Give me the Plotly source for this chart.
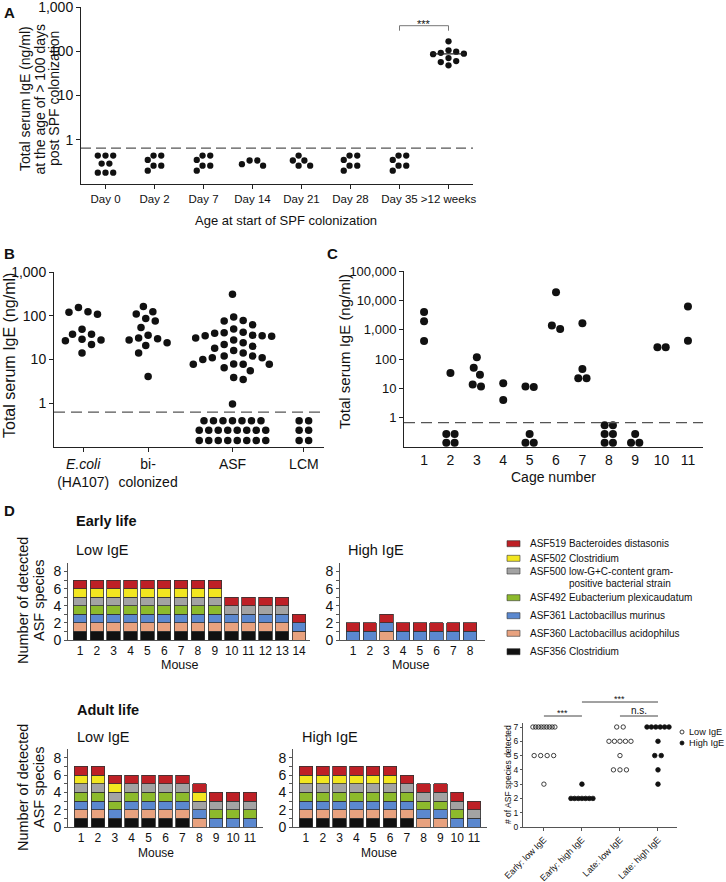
import numpy as np
import plotly.graph_objects as go

W, H = 726, 882

# ------------------------------------------------------------------ data
# Panel A: total serum IgE (ng/ml) by age at start of SPF colonization
a_groups = ["Day 0", "Day 2", "Day 7", "Day 14", "Day 21", "Day 28", "Day 35", "&gt;12 weeks"]
a_day0 = [0.44, 0.44, 0.44, 0.29, 0.29, 0.18, 0.18, 0.18]
a_day2 = [0.44, 0.44, 0.35, 0.26, 0.26, 0.20]
a_day7 = [0.44, 0.44, 0.35, 0.26, 0.26, 0.20]
a_day14 = [0.34, 0.34, 0.28, 0.26]
a_day21 = [0.44, 0.34, 0.34, 0.26, 0.26]
a_day28 = [0.44, 0.44, 0.35, 0.26, 0.26, 0.20]
a_day35 = [0.44, 0.44, 0.35, 0.26, 0.26, 0.20]
a_12wk = [168, 105, 98, 92, 88, 86, 70, 60, 57, 48]
a_lod = 0.65

# Panel B
b_groups = ["<i>E.coli</i><br>(HA107)", "bi-<br>colonized", "ASF", "LCM"]
b_ecoli = [154, 124, 120, 108, 49, 38, 38, 29, 28, 27, 22, 14]
b_bicol = [162, 124, 110, 87, 76, 54, 36, 31, 30, 28, 24, 21, 14, 4.1]
b_asf = [309, 94, 78, 76, 62, 50, 42, 41, 40, 36, 35, 35, 34, 31, 28, 24, 22, 20,
         18, 16, 14, 12, 12, 11, 11, 10, 7.9, 7.8, 7.8, 7.8, 6.5, 5.5, 3.9, 3.5, 0.96,
         0.40, 0.40, 0.40, 0.40, 0.40, 0.40, 0.40,
         0.24, 0.24, 0.24, 0.24, 0.24, 0.24, 0.24, 0.24,
         0.14, 0.14, 0.14, 0.14, 0.14, 0.14, 0.14, 0.14]
b_lcm = [0.40, 0.40, 0.24, 0.24, 0.14, 0.14]
b_lod = 0.63

# Panel C: IgE by cage
c_cages = [1, 2, 3, 4, 5, 6, 7, 8, 9, 10, 11]
c_cage1 = [4000, 1950, 410]
c_cage2 = [33, 0.28, 0.28, 0.14, 0.14]
c_cage3 = [115, 50, 29, 13.5, 11.5]
c_cage4 = [15, 4.0]
c_cage5 = [11.6, 11, 0.28, 0.14, 0.14]
c_cage6 = [19000, 1380, 1050]
c_cage7 = [1670, 46, 22, 22]
c_cage8 = [0.55, 0.55, 0.28, 0.28, 0.14, 0.14]
c_cage9 = [0.28, 0.14, 0.14]
c_cage10 = [250, 250]
c_cage11 = [6200, 420]
c_lod = 0.68

# Panel D: ASF species detected per mouse
asf_ids = ["356", "360", "361", "492", "500", "502", "519"]
asf_labels = ["ASF356 Clostridium", "ASF360 Lactobacillus acidophilus",
              "ASF361 Lactobacillus murinus", "ASF492 Eubacterium plexicaudatum",
              "ASF500 low-G+C-content gram-", "ASF502 Clostridium",
              "ASF519 Bacteroides distasonis"]
early_low = ["356 360 361 492 500 502 519", "356 360 361 492 500 502 519",
             "356 360 361 492 500 502 519", "356 360 361 492 500 502 519",
             "356 360 361 492 500 502 519", "356 360 361 492 500 502 519",
             "356 360 361 492 500 502 519", "356 360 361 492 500 502 519",
             "356 360 361 492 500 502 519", "356 360 361 500 519",
             "356 360 361 500 519", "356 360 361 500 519", "356 360 361 500 519",
             "360 361 519"]
early_high = ["361 519", "361 519", "360 361 519", "361 519", "361 519",
              "361 519", "361 519", "361 519"]
adult_low = ["356 360 361 492 500 502 519", "356 360 361 492 500 502 519",
             "356 361 492 500 502 519", "356 360 361 492 500 519",
             "356 360 361 492 500 519", "356 360 361 492 500 519",
             "356 360 361 492 500 519", "360 361 500 502 519",
             "361 492 500 519", "361 492 500 519", "361 492 500 519"]
adult_high = ["356 360 361 492 500 502 519", "356 360 361 492 500 502 519",
              "356 360 361 492 500 502 519", "356 360 361 492 500 502 519",
              "356 360 361 492 500 502 519", "356 360 361 492 500 502 519",
              "356 360 361 492 500 519", "360 361 492 500 519",
              "360 361 492 500 519", "361 492 500 519", "361 500 519"]
dot_groups = ["Early: low IgE", "Early: high IgE", "Late: low IgE", "Late: high IgE"]

# ------------------------------------------------------------------ style
SANS = "Liberation Sans, Arial, Helvetica, sans-serif"
NARROW = "Liberation Sans Narrow, Arial Narrow, Liberation Sans, sans-serif"
INK = "#111111"
asf_colors = {"356": "#111111", "360": "#E8A27F", "361": "#5B88CF", "492": "#8DBA2C",
              "500": "#A3A3A3", "502": "#F2E620", "519": "#BE2026"}


def xdom(a, b):
    return [a / W, b / W]


def ydom(top, bottom):
    return [1 - bottom / H, 1 - top / H]


def swarm(values, upx, sx, sy, log=True):
    """Beeswarm offsets in pixels; upx = pixels per y unit (decade)."""
    vals = np.asarray(values, float)
    ys = (np.log10(vals) if log else vals) * upx
    order = np.argsort(-vals, kind="stable")
    step = sx / 4.0
    cands = [0.0]
    for k in range(1, 120):
        cands += [k * step, -k * step]
    xs = np.zeros(len(vals))
    placed = []
    for i in order:
        y = ys[i]
        for t in cands:
            ok = True
            for (qx, qy) in placed:
                dx = (t - qx) / sx
                dy = (y - qy) / sy
                if dx * dx + dy * dy < 0.999:
                    ok = False
                    break
            if ok:
                break
        xs[i] = t
        placed.append((t, y))
    idx = sorted(range(len(vals)), key=lambda j: -ys[j])
    clusters, cur = [], [idx[0]]
    for a, b in zip(idx, idx[1:]):
        if ys[a] - ys[b] < sy:
            cur.append(b)
        else:
            clusters.append(cur)
            cur = [b]
    clusters.append(cur)
    for cl in clusters:
        mid = (xs[cl].max() + xs[cl].min()) / 2
        xs[cl] -= mid
    return xs


def rows(values, s, maxw):
    xs = np.zeros(len(values))
    for v in sorted(set(values)):
        idx = [i for i, x in enumerate(values) if x == v]
        n = len(idx)
        sp = s if n < 2 else min(s, maxw / (n - 1))
        for j, i in enumerate(idx):
            xs[i] = (j - (n - 1) / 2) * sp
    return xs


fig = go.Figure()
annotations, shapes = [], []


def text(s, x, y, size, xa="center", ya="middle", angle=0, family=SANS, xref="paper", color=INK):
    annotations.append(dict(text=s, x=x / W if xref == "paper" else x, y=1 - y / H,
                            xref=xref, yref="paper", xanchor=xa, yanchor=ya,
                            textangle=angle, showarrow=False,
                            font=dict(family=family, size=size, color=color)))


def bracket(xref, x0, x1, ytop, ybot=None, color="#444", width=1):
    if ybot is None:
        path = f"M {x0},{1 - ytop / H} L {x1},{1 - ytop / H}"
    else:
        path = (f"M {x0},{1 - ybot / H} L {x0},{1 - ytop / H} "
                f"L {x1},{1 - ytop / H} L {x1},{1 - ybot / H}")
    shapes.append(dict(type="path", path=path, xref=xref, yref="paper",
                       line=dict(color=color, width=width)))


# geometry (pixels)
GA = dict(x0=81, x1=473, top=7, bot=184, xr=[-0.5, 7.5], yr=[-1, 3])
GB = dict(x0=54, x1=324, top=272, bot=447, xr=[0.55, 4.71], yr=[-1, 3])
GC = dict(x0=404, x1=703, top=271, bot=447, xr=[0.24, 11.57], yr=[-1, 5])


def ppu(g):
    return (g["x1"] - g["x0"]) / (g["xr"][1] - g["xr"][0]), (g["bot"] - g["top"]) / (g["yr"][1] - g["yr"][0])


# ---------------- Panel A
ax_, ay_ = ppu(GA)
for i, vals in enumerate([a_day0, a_day2, a_day7, a_day14, a_day21, a_day28, a_day35, a_12wk]):
    off = swarm(vals, ay_, 7.7, 6.5)
    fig.add_trace(go.Scatter(x=i + off / ax_, y=vals, mode="markers", xaxis="x", yaxis="y",
                             marker=dict(size=6.3, color=INK), cliponaxis=False, hoverinfo="skip"))
med = float(np.median(a_12wk))
fig.add_trace(go.Scatter(x=[7 - 0.33, 7 + 0.33], y=[med, med], mode="lines", xaxis="x", yaxis="y",
                         line=dict(color="#222", width=1.2), hoverinfo="skip"))
fig.add_trace(go.Scatter(x=GA["xr"], y=[a_lod, a_lod], mode="lines", xaxis="x", yaxis="y",
                         line=dict(color="#555", width=1.2, dash="10px,5px"), hoverinfo="skip"))
bracket("x", 6, 7, 25.7, 30.7, color="#777")
text("***", 6.5, 24, 11, xref="x")

# ---------------- Panel B
b_pos = [1, 2, 3.3, 4.4]
bx_, by_ = ppu(GB)
for p, vals in zip(b_pos, [b_ecoli, b_bicol, b_asf, b_lcm]):
    off = swarm(vals, by_, 9.5, 9.5)
    fig.add_trace(go.Scatter(x=p + off / bx_, y=vals, mode="markers", xaxis="x2", yaxis="y2",
                             marker=dict(size=7.5, color=INK), cliponaxis=False, hoverinfo="skip"))
fig.add_trace(go.Scatter(x=GB["xr"], y=[b_lod, b_lod], mode="lines", xaxis="x2", yaxis="y2",
                         line=dict(color="#555", width=1.2, dash="11px,6px"), hoverinfo="skip"))

# ---------------- Panel C
cx_, cy_ = ppu(GC)
for cage, vals in zip(c_cages, [c_cage1, c_cage2, c_cage3, c_cage4, c_cage5, c_cage6,
                                c_cage7, c_cage8, c_cage9, c_cage10, c_cage11]):
    off = swarm(vals, cy_, 8.3, 8.3)
    fig.add_trace(go.Scatter(x=cage + off / cx_, y=vals, mode="markers", xaxis="x3", yaxis="y3",
                             marker=dict(size=8, color=INK), cliponaxis=False, hoverinfo="skip"))
fig.add_trace(go.Scatter(x=GC["xr"], y=[c_lod, c_lod], mode="lines", xaxis="x3", yaxis="y3",
                         line=dict(color="#555", width=1.2, dash="11px,6px"), hoverinfo="skip"))

# ---------------- Panel D bars
bar_sets = [(early_low, "x4", "y4"), (early_high, "x5", "y5"),
            (adult_low, "x6", "y6"), (adult_high, "x7", "y7")]
for mice, xa, ya in bar_sets:
    sets = [m.split() for m in mice]
    xs = list(range(1, len(sets) + 1))
    for sid in asf_ids:
        ys = [1 if sid in s else None for s in sets]
        fig.add_trace(go.Bar(x=xs, y=ys, xaxis=xa, yaxis=ya, width=0.8,
                             marker=dict(color=asf_colors[sid], line=dict(color="#333", width=0.8)),
                             hoverinfo="skip"))

# ---------------- Panel D dot plot
dot_counts = [[len(m.split()) for m in early_low], [len(m.split()) for m in early_high],
              [len(m.split()) for m in adult_low], [len(m.split()) for m in adult_high]]
dpx = (677 - 523) / (3.5 + 0.55)
for i, counts in enumerate(dot_counts):
    off = rows(counts, 6.5, 22)
    filled = i in (1, 3)
    fig.add_trace(go.Scatter(x=i + off / dpx, y=counts, mode="markers", xaxis="x8", yaxis="y8",
                             marker=dict(size=4.6 if filled else 4.4,
                                         symbol="circle" if filled else "circle-open",
                                         color=INK, line=dict(color=INK, width=0.8)),
                             cliponaxis=False, hoverinfo="skip"))
bracket("x8", 1, 3, 702)
bracket("x8", 0, 1, 716)
bracket("x8", 2, 3, 716)
text("***", 2, 699, 9, xref="x8")
text("***", 0.5, 713, 9, xref="x8")
text("n.s.", 2.5, 710, 10, xref="x8")

# ---------------- axes
def axis(**kw):
    base = dict(showline=True, linecolor="#222", linewidth=1, showgrid=False, zeroline=False,
                ticks="outside", ticklen=4, tickcolor="#222", tickwidth=1, fixedrange=True,
                automargin=False, tickangle=0,
                tickfont=dict(family=SANS, size=14, color=INK))
    base.update(kw)
    return base


layout = dict(
    template="none",
    width=W, height=H, margin=dict(l=0, r=0, t=0, b=0, autoexpand=False),
    paper_bgcolor="white", plot_bgcolor="white", showlegend=False, barmode="stack", bargap=0.2,
    font=dict(family=SANS, color=INK),
    xaxis=axis(domain=xdom(GA["x0"], GA["x1"]), range=GA["xr"], anchor="y",
               tickvals=list(range(8)), ticktext=a_groups,
               tickfont=dict(family=NARROW, size=11.5, color=INK)),
    yaxis=axis(domain=ydom(GA["top"], GA["bot"]), type="log", range=GA["yr"], anchor="x",
               tickvals=[1, 10, 100, 1000], ticktext=["1", "10", "100", "1,000"],
               tickfont=dict(family=NARROW, size=14, color=INK)),
    xaxis2=axis(domain=xdom(GB["x0"], GB["x1"]), range=GB["xr"], anchor="y2",
                tickvals=b_pos, ticktext=b_groups),
    yaxis2=axis(domain=ydom(GB["top"], GB["bot"]), type="log", range=GB["yr"], anchor="x2",
                tickvals=[1, 10, 100, 1000], ticktext=["1", "10", "100", "1,000"]),
    xaxis3=axis(domain=xdom(GC["x0"], GC["x1"]), range=GC["xr"], anchor="y3",
                tickvals=c_cages, ticks=""),
    yaxis3=axis(domain=ydom(GC["top"], GC["bot"]), type="log", range=GC["yr"], anchor="x3",
                tickvals=[1, 10, 100, 1000, 10000, 100000],
                ticktext=["1", "10", "100", "1,000", "10,000", "100,000"],
                tickfont=dict(family=SANS, size=13, color=INK)),
)
bar_geo = {"4": (68, 310, 563, 640, [0.29, 14.65], 14),
           "5": (340, 485, 563, 640, [0.22, 8.9], 8),
           "6": (68, 263, 749, 827, [0.23, 11.77], 11),
           "7": (293, 487, 749, 827, [0.23, 11.77], 11)}
for k, (x0, x1, t, b, xr, n) in bar_geo.items():
    layout["xaxis" + k] = axis(domain=xdom(x0, x1), range=xr, anchor="y" + k, ticks="",
                               tickvals=list(range(1, n + 1)), linecolor="#555",
                               tickfont=dict(family=SANS, size=12, color=INK))
    layout["yaxis" + k] = axis(domain=ydom(t, b), range=[0, 9], anchor="x" + k,
                               tickvals=list(range(9)), ticklen=3,
                               ticktext=["0", "", "2", "", "4", "", "6", "", "8"],
                               linecolor="#555", tickcolor="#555")
layout["xaxis8"] = axis(domain=xdom(523, 677), range=[-0.55, 3.5], anchor="y8",
                        tickvals=[0, 1, 2, 3], ticktext=dot_groups, tickangle=-45, ticklen=3,
                        linecolor="#555", tickcolor="#555",
                        tickfont=dict(family=SANS, size=9, color=INK))
layout["yaxis8"] = axis(domain=ydom(723, 827), range=[0, 7.28], anchor="x8",
                        tickvals=list(range(8)), ticklen=2, linecolor="#555", tickcolor="#555",
                        tickfont=dict(family=SANS, size=8.5, color=INK))

# ---------------- text
text("<b>A</b>", 2, 12, 15, xa="left")
text("<b>B</b>", 2, 253, 15, xa="left")
text("<b>C</b>", 325, 253, 15, xa="left")
text("<b>D</b>", 2, 510, 15, xa="left")
text("Total serum IgE (ng/ml)", 25, 99, 14, angle=-90)
text("at the age of &gt; 100 days", 39.5, 99, 14, angle=-90)
text("post SPF colonization", 54, 99, 14, angle=-90)
text("Age at start of SPF colonization", 286, 220, 13, family=NARROW)
text("Total serum IgE (ng/ml)", 10, 356, 16, angle=-90)
text("Total serum IgE (ng/ml)", 344, 352, 15, angle=-90)
text("Cage number", 553, 477, 14)

text("<b>Early life</b>", 74, 521, 14.5, xa="left")
text("Low IgE", 74, 550, 14.5, xa="left")
text("High IgE", 346, 550, 14.5, xa="left")
text("Number of detected", 23, 601, 14.5, angle=-90)
text("ASF species", 39, 601, 14.5, angle=-90)
text("Mouse", 180, 665, 12.5)
text("Mouse", 411, 665, 12.5)
text("<b>Adult life</b>", 75, 710, 14.5, xa="left")
text("Low IgE", 75, 737, 14.5, xa="left")
text("High IgE", 300, 737, 14.5, xa="left")
text("Number of detected", 23, 788, 14.5, angle=-90)
text("ASF species", 39, 788, 14.5, angle=-90)
text("Mouse", 156, 853, 12)
text("Mouse", 379, 853, 12)
text("# of ASF species detected", 508, 775, 8.5, angle=-90)

# species legend (top to bottom)
legend_rows = {"519": 543.7, "502": 558.3, "500": 571.0, "492": 597.7,
               "361": 615.7, "360": 633.3, "356": 651.7}
for sid, label in zip(asf_ids, asf_labels):
    yy = legend_rows[sid]
    shapes.append(dict(type="rect", xref="paper", yref="paper", x0=507 / W, x1=520 / W,
                       y0=1 - (yy + 3) / H, y1=1 - (yy - 3) / H,
                       fillcolor=asf_colors[sid], line=dict(color="#333", width=0.6)))
    text(label, 528, yy, 10, xa="left")
text("positive bacterial strain", 567, 583.3, 10, xa="left")

# dot-plot legend
for yy, filled in [(732, False), (743, True)]:
    shapes.append(dict(type="circle", xref="paper", yref="paper", x0=680 / W, x1=684 / W,
                       y0=1 - (yy + 2) / H, y1=1 - (yy - 2) / H,
                       fillcolor=INK if filled else "white", line=dict(color=INK, width=0.8)))
text("Low IgE", 687, 732, 9.2, xa="left")
text("High IgE", 687, 743, 9.2, xa="left")

layout["annotations"] = annotations
layout["shapes"] = shapes
fig.update_layout(**layout)
fig.write_html("out.html", post_script="document.body.style.margin='0px';",
               config={"displayModeBar": False})
